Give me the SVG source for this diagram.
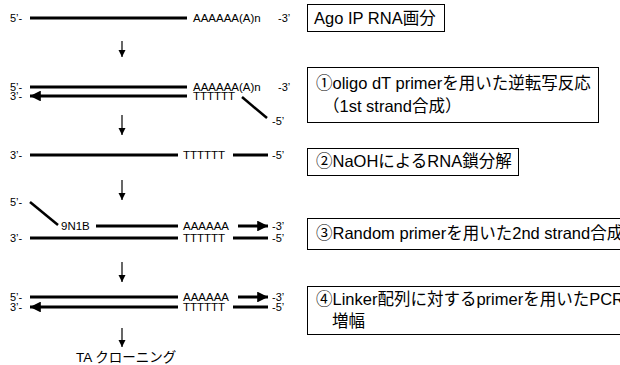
<svg xmlns="http://www.w3.org/2000/svg" width="620" height="365" viewBox="0 0 620 365">
<defs>
<marker id="ah" viewBox="0 0 10 10" refX="10" refY="5" markerWidth="4.2" markerHeight="3.6" orient="auto" markerUnits="strokeWidth"><path d="M0,0 L10,5 L0,10 z" fill="#000"/></marker>
<marker id="dh" viewBox="0 0 10 10" refX="10" refY="5" markerWidth="6" markerHeight="6" orient="auto" markerUnits="strokeWidth"><path d="M0,0 L10,5 L0,10 z" fill="#000"/></marker>
</defs>
<style>
.s{stroke:#000;stroke-width:3;fill:none}
.d{stroke:#000;stroke-width:2.5;fill:none}
.a{stroke:#000;stroke-width:1.2;fill:none}
.t{font-family:"Liberation Sans","Noto Sans CJK JP",sans-serif;font-size:11.5px;fill:#000}
.l{font-family:"Liberation Sans","Noto Sans CJK JP",sans-serif;font-size:11px;fill:#000}
.b{fill:#fff;stroke:#000;stroke-width:1}
.bt{font-family:"Liberation Sans","Noto Sans CJK JP",sans-serif;font-size:16.5px;fill:#000}
.c{font-family:"Liberation Sans","Noto Sans CJK JP",sans-serif;font-size:13.5px;fill:#000}
</style>
<rect width="620" height="365" fill="#fff"/>
<g id="connectors">
<line class="a" x1="122" y1="41" x2="122" y2="57" marker-end="url(#dh)"/>
<line class="a" x1="122" y1="115" x2="122" y2="135" marker-end="url(#dh)"/>
<line class="a" x1="122" y1="180" x2="122" y2="200" marker-end="url(#dh)"/>
<line class="a" x1="122" y1="262" x2="122" y2="282" marker-end="url(#dh)"/>
<line class="a" x1="122" y1="328" x2="122" y2="347" marker-end="url(#dh)"/>
</g>
<g id="row1">
<text class="l" x="10" y="22">5’-</text>
<line class="s" x1="30" y1="18" x2="187" y2="18"/>
<text class="t" x="193" y="22">AAAAAA(A)n</text>
<text class="l" x="278" y="22">-3’</text>
</g>
<g id="row2">
<text class="l" x="10" y="91">5’-</text>
<line class="s" x1="30" y1="87" x2="187" y2="87"/>
<text class="t" x="193" y="91">AAAAAA(A)n</text>
<text class="l" x="278" y="91">-3’</text>
<text class="l" x="10" y="100">3’-</text>
<line class="s" x1="187" y1="96" x2="30" y2="96" marker-end="url(#ah)"/>
<text class="t" x="193" y="100">TTTTTT</text>
<line class="d" x1="242" y1="97" x2="267" y2="118"/>
<text class="l" x="272" y="125">-5’</text>
</g>
<g id="row3">
<text class="l" x="10" y="159">3’-</text>
<line class="s" x1="30" y1="155" x2="178" y2="155"/>
<text class="t" x="183" y="159">TTTTTT</text>
<line class="s" x1="233" y1="155" x2="268" y2="155"/>
<text class="l" x="272" y="159">-5’</text>
</g>
<g id="row4">
<text class="l" x="10" y="206">5’-</text>
<line class="d" x1="30" y1="202" x2="58" y2="225"/>
<text class="t" x="61" y="230">9N1B</text>
<line class="s" x1="96" y1="226" x2="178" y2="226"/>
<text class="t" x="183" y="230">AAAAAA</text>
<line class="s" x1="238" y1="226" x2="268" y2="226" marker-end="url(#ah)"/>
<text class="l" x="272" y="230">-3’</text>
<text class="l" x="10" y="242">3’-</text>
<line class="s" x1="30" y1="238" x2="178" y2="238"/>
<text class="t" x="183" y="242">TTTTTT</text>
<line class="s" x1="233" y1="238" x2="268" y2="238"/>
<text class="l" x="272" y="242">-5’</text>
</g>
<g id="row5">
<text class="l" x="10" y="301">5’-</text>
<line class="s" x1="30" y1="297" x2="178" y2="297"/>
<text class="t" x="183" y="301">AAAAAA</text>
<line class="s" x1="238" y1="297" x2="268" y2="297" marker-end="url(#ah)"/>
<text class="l" x="272" y="301">-3’</text>
<text class="l" x="10" y="311">3’-</text>
<line class="s" x1="178" y1="307" x2="30" y2="307" marker-end="url(#ah)"/>
<text class="t" x="183" y="311">TTTTTT</text>
<line class="s" x1="233" y1="307" x2="268" y2="307"/>
<text class="l" x="272" y="311">-5’</text>
<text class="c" x="76" y="362">TA クローニング</text>
</g>
<g id="box1">
<rect class="b" x="307.5" y="4.5" width="137" height="27"/>
<text class="bt" x="314" y="24">Ago IP RNA画分</text>
</g>
<g id="box2">
<rect class="b" x="307.5" y="67.5" width="291" height="55"/>
<text class="bt" x="316" y="89">①oligo dT primerを用いた逆転写反応</text>
<text class="bt" x="323" y="112">（1st strand合成）</text>
</g>
<g id="box3">
<rect class="b" x="307.5" y="148.5" width="211" height="27"/>
<text class="bt" x="316" y="167">②NaOHによるRNA鎖分解</text>
</g>
<g id="box4">
<rect class="b" x="307.5" y="218.5" width="320" height="31"/>
<text class="bt" x="316" y="239">③Random primerを用いた2nd strand合成</text>
</g>
<g id="box5">
<rect class="b" x="307.5" y="286.5" width="320" height="48"/>
<text class="bt" x="316" y="305">④Linker配列に対するprimerを用いたPCR</text>
<text class="bt" x="332" y="327">増幅</text>
</g>
</svg>
